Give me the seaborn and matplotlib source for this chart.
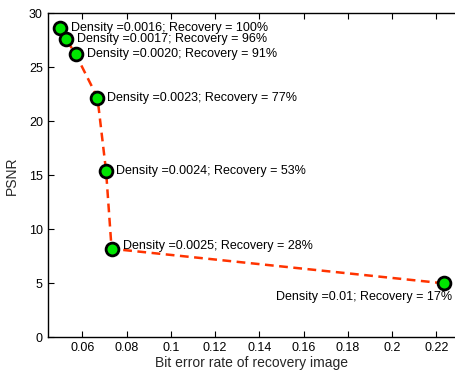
import matplotlib
matplotlib.use("Agg")
import matplotlib.pyplot as plt
import seaborn as sns
import pandas as pd

ber = [0.0499, 0.0526, 0.0570, 0.0668, 0.0707, 0.0732, 0.2234]
psnr = [28.6, 27.6, 26.2, 22.2, 15.4, 8.2, 5.0]
labels = [
    "Density =0.0016; Recovery = 100%",
    "Density =0.0017; Recovery = 96%",
    "Density =0.0020; Recovery = 91%",
    "Density =0.0023; Recovery = 77%",
    "Density =0.0024; Recovery = 53%",
    "Density =0.0025; Recovery = 28%",
    "Density =0.01; Recovery = 17%",
]
xticks = [0.06, 0.08, 0.1, 0.12, 0.14, 0.16, 0.18, 0.2, 0.22]
xticklabels = ["0.06", "0.08", "0.1", "0.12", "0.14", "0.16", "0.18", "0.2", "0.22"]
yticks = [0, 5, 10, 15, 20, 25, 30]

sns.set_style("ticks")
plt.rcParams["font.family"] = ["Liberation Sans", "DejaVu Sans"]

df = pd.DataFrame({"ber": ber, "psnr": psnr})

fig = plt.figure(figsize=(4.55, 3.74), dpi=100)
ax = fig.add_axes([0.1048, 0.0981, 0.8952, 0.8663])

sns.lineplot(data=df, x="ber", y="psnr", sort=False, ax=ax,
             color="#ff3300", linewidth=1.8, linestyle=(0, (3.5, 2.2)))
sns.scatterplot(data=df, x="ber", y="psnr", ax=ax, s=85,
                color="#00e600", edgecolor="black", linewidth=2.0, zorder=3)

offsets = [(8, 0), (8, 0), (8, 0), (7, 0), (7, 0), (8, 2), (6, -10)]
for i, (xv, yv, lab) in enumerate(zip(ber, psnr, labels)):
    ha = "right" if i == len(labels) - 1 else "left"
    ax.annotate(lab, (xv, yv), xytext=offsets[i], textcoords="offset points",
                ha=ha, va="center", fontsize=9, color="black")

ax.set_xlim(0.0443, 0.2285)
ax.set_ylim(0, 30)
ax.set_xticks(xticks)
ax.set_xticklabels(xticklabels)
ax.set_yticks(yticks)
ax.tick_params(direction="in", length=4, width=0.8, labelsize=9,
               top=True, right=False, colors="black")
for s in ["left", "bottom", "top"]:
    ax.spines[s].set_visible(True)
    ax.spines[s].set_linewidth(1.0)
    ax.spines[s].set_color("black")
ax.spines["right"].set_visible(False)
ax.set_xlabel("Bit error rate of recovery image", fontsize=10, labelpad=1)
ax.set_ylabel("PSNR", fontsize=10, labelpad=7)

fig.savefig("out.png", dpi=100)
